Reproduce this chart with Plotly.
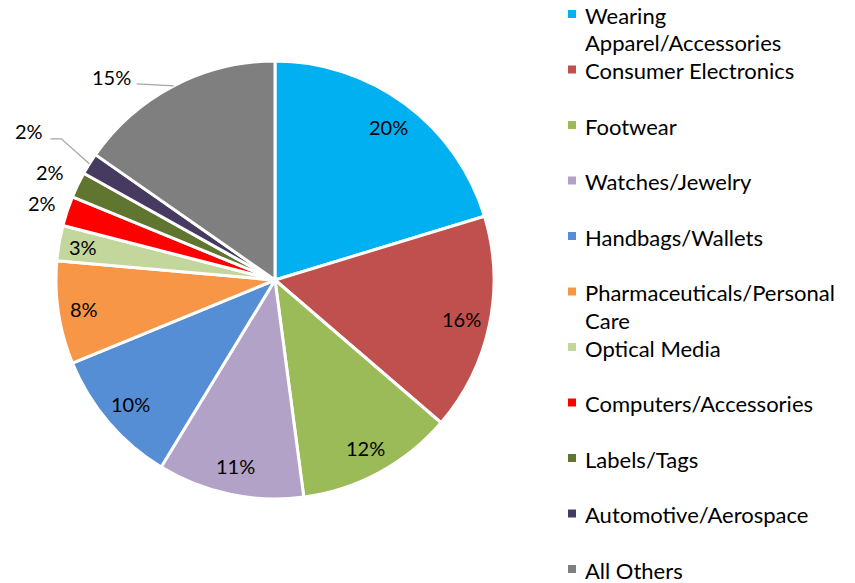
import math
import plotly.graph_objects as go

categories = [
    "Wearing Apparel/Accessories", "Consumer Electronics", "Footwear",
    "Watches/Jewelry", "Handbags/Wallets", "Pharmaceuticals/Personal Care",
    "Optical Media", "Computers/Accessories", "Labels/Tags",
    "Automotive/Aerospace", "All Others",
]
shares = [20.3, 16.0, 11.6, 10.8, 10.1, 7.6, 2.6, 2.2, 1.9, 1.6, 15.3]
legend_text = [
    "Wearing<br>Apparel/Accessories", "Consumer Electronics", "Footwear",
    "Watches/Jewelry", "Handbags/Wallets", "Pharmaceuticals/Personal<br>Care",
    "Optical Media", "Computers/Accessories", "Labels/Tags",
    "Automotive/Aerospace", "All Others",
]
colors = [
    "#00B0F0", "#C0504D", "#9BBB59", "#B3A2C7", "#558ED5", "#F79646",
    "#C3D69B", "#FF0000", "#5F7530", "#463A60", "#7F7F7F",
]

W, H = 855, 583
FONT = "Lato"
CX, CY, R = 275, 280, 219          # pie centre / radius in pixels

# label placement: distance from centre as a fraction of R, or a leader line
label_dist = [0.87, 0.87, 0.87, 0.87, 0.87, 0.88, 0.89, 1.12, 1.14, None, None]
# leader lines: (label offset, line points) relative to the slice edge, pixels
leaders = {
    9: ((-60, -33), [(-28, -25), (-39, -25)]),
    10: ((-62, -9), [(-37, -2)]),
}


def px(x, y):
    return x / W, 1 - y / H


fig = go.Figure()
fig.add_trace(go.Pie(
    labels=categories, values=shares, sort=False, direction="clockwise",
    rotation=0, marker=dict(colors=colors, line=dict(color="white", width=3)),
    textinfo="none", hoverinfo="label+percent",
    domain=dict(x=[(CX - R) / W, (CX + R) / W], y=[1 - (CY + R) / H, 1 - (CY - R) / H]),
    showlegend=False,
))

shapes, notes = [], []
total = sum(shares)
cum = 0
for i, v in enumerate(shares):
    mid = (cum + v / 2) / total * 2 * math.pi
    cum += v
    pct = f"{round(v / total * 100)}%"
    if i in leaders:
        ex, ey = CX + R * math.sin(mid), CY - R * math.cos(mid)
        (lx, ly), pts = leaders[i]
        path = "M {} {}".format(*px(ex, ey))
        for dx, dy in pts:
            path += " L {} {}".format(*px(ex + dx, ey + dy))
        shapes.append(dict(type="path", xref="paper", yref="paper", path=path,
                           line=dict(color="#A6A6A6", width=1.3)))
        tx, ty = ex + lx, ey + ly
    else:
        d = label_dist[i] * R
        tx, ty = CX + d * math.sin(mid), CY - d * math.cos(mid)
    x, y = px(tx, ty)
    notes.append(dict(x=x, y=y, xref="paper", yref="paper", text=pct, showarrow=False,
                      xanchor="center", yanchor="middle",
                      font=dict(family=FONT, size=20, color="#000000")))

# legend drawn by hand so every entry gets the same slot height
for i, (txt, col) in enumerate(zip(legend_text, colors)):
    yc = 14 + i * 55.5
    shapes.append(dict(type="rect", xref="paper", yref="paper",
                       x0=568 / W, x1=576 / W, y0=1 - (yc + 4) / H, y1=1 - (yc - 4) / H,
                       fillcolor=col, line=dict(width=0)))
    for j, line in enumerate(txt.split("<br>")):
        notes.append(dict(x=583 / W, y=1 - (yc + 1 + j * 27.5) / H, xref="paper", yref="paper",
                          text=line, showarrow=False, xanchor="left", yanchor="middle",
                          font=dict(family=FONT, size=22, color="#000000")))

fig.update_layout(
    width=W, height=H, margin=dict(l=0, r=0, t=0, b=0),
    paper_bgcolor="white", plot_bgcolor="white",
    shapes=shapes, annotations=notes,
)
fig.write_html("out.html", config={"displayModeBar": False},
               post_script="document.body.style.margin='0px';")
